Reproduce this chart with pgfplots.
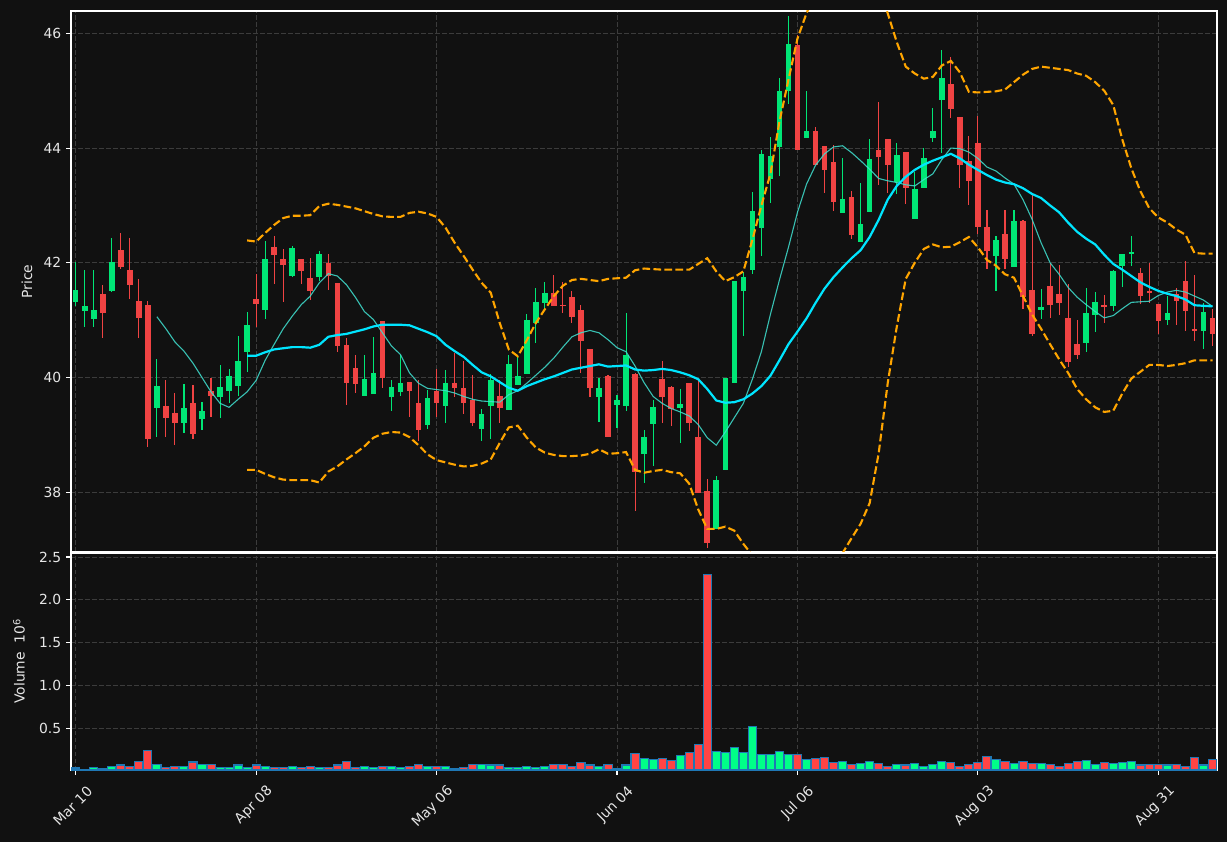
\documentclass[border=0pt]{standalone}
\usepackage{pgfplots}
\pgfplotsset{compat=1.18}
\usepackage{pgfplotstable}
\usepackage{fontspec}
\setmainfont{DejaVu Sans}
\definecolor{bg}{HTML}{111111}
\definecolor{upc}{HTML}{00E676}
\definecolor{dnc}{HTML}{F04343}
\definecolor{vup}{HTML}{00FF88}
\definecolor{vdn}{HTML}{FF4444}
\definecolor{vedge}{HTML}{1F77B4}
\definecolor{gridc}{HTML}{3C3C3C}
\definecolor{txt}{HTML}{E6E6E6}
\definecolor{smaA}{HTML}{00E5FF}
\definecolor{smaB}{HTML}{40E0D0}
\definecolor{bbc}{HTML}{FFA500}
\newlength\px
\setlength\px{0.72bp}

% up candles: index open high low close volume(10^6)
\pgfplotstableread{
i o h l c v
0 41.31 42.02 41.24 41.52 0.035
1 41.16 41.87 40.88 41.24 0.02
2 41.02 41.87 40.88 41.17 0.045
4 41.51 42.44 41.49 42.01 0.058
9 39.46 40.32 38.96 39.86 0.08
12 39.20 39.89 39.03 39.46 0.055
14 39.27 39.58 39.08 39.42 0.08
16 39.66 40.21 39.29 39.84 0.04
17 39.77 40.15 39.55 40.02 0.04
18 39.86 40.72 39.67 40.28 0.07
19 40.45 41.14 40.09 40.92 0.04
21 41.17 42.38 41.02 42.06 0.058
24 41.77 42.30 41.75 42.26 0.058
27 41.76 42.20 41.68 42.15 0.04
32 39.68 40.40 39.68 39.98 0.058
33 39.71 40.71 39.71 40.07 0.04
35 39.66 39.95 39.42 39.84 0.058
36 39.74 40.40 39.68 39.91 0.04
39 39.18 39.79 39.10 39.65 0.058
41 39.50 40.13 39.21 39.91 0.058
45 39.10 39.45 38.89 39.37 0.08
46 39.50 40.06 38.93 39.96 0.07
48 39.43 40.39 39.43 40.23 0.04
49 39.87 40.36 39.87 40.02 0.04
50 40.06 41.10 40.06 41.01 0.058
51 40.95 41.56 40.60 41.31 0.04
52 41.30 41.67 41.16 41.48 0.058
58 39.66 39.99 39.23 39.81 0.058
60 39.52 39.70 39.12 39.60 0.03
61 39.50 41.13 39.41 40.40 0.07
63 38.66 39.09 38.16 38.97 0.15
64 39.19 39.61 38.45 39.49 0.139
67 39.46 39.80 38.85 39.54 0.185
71 37.36 38.29 37.36 38.22 0.232
72 38.38 40.00 38.38 40.00 0.22
73 39.90 41.69 39.90 41.69 0.279
74 41.51 41.84 40.73 41.75 0.22
75 41.88 43.23 41.80 42.91 0.523
76 42.60 43.97 42.11 43.89 0.197
77 43.46 44.20 43.05 43.87 0.197
78 44.02 45.22 43.51 44.99 0.232
79 44.99 46.31 44.77 45.82 0.197
81 44.17 45.00 44.17 44.30 0.139
85 42.86 43.83 42.86 43.11 0.116
87 42.37 43.39 42.37 42.67 0.093
88 42.89 44.16 42.89 43.81 0.116
91 43.40 44.09 43.20 43.88 0.081
93 42.77 43.58 42.77 43.29 0.093
94 43.31 44.00 43.31 43.83 0.058
95 44.17 44.70 44.10 44.29 0.081
96 44.83 45.71 43.92 45.23 0.116
102 42.11 42.47 41.51 42.40 0.139
104 41.92 42.92 41.92 42.73 0.093
107 41.17 41.55 41.02 41.23 0.093
112 40.60 41.56 40.44 41.12 0.128
113 41.09 41.49 40.79 41.31 0.081
115 41.24 41.88 41.16 41.85 0.093
116 41.95 42.16 41.58 42.16 0.104
117 42.15 42.46 41.94 42.18 0.116
121 41.00 41.42 40.92 41.12 0.07
125 40.81 41.30 40.50 41.14 0.07
}\upT

% down candles
\pgfplotstableread{
i o h l c v
3 41.46 41.62 40.69 41.12 0.03
5 42.23 42.52 41.90 41.92 0.07
6 41.87 42.44 41.37 41.61 0.055
7 41.34 41.72 40.69 41.03 0.11
8 41.27 41.34 38.79 38.92 0.245
10 39.51 39.96 38.96 39.29 0.045
11 39.39 39.73 38.83 39.20 0.055
13 39.56 39.87 38.93 39.01 0.105
15 39.77 39.99 39.32 39.67 0.08
20 41.37 41.81 40.88 41.29 0.07
22 42.27 42.46 41.63 42.13 0.04
23 42.06 42.24 41.32 41.96 0.04
25 42.06 42.06 41.63 41.85 0.04
26 41.73 42.09 41.36 41.51 0.058
28 41.99 42.16 41.53 41.77 0.04
29 41.64 41.64 40.44 40.55 0.07
30 40.56 40.69 39.52 39.90 0.115
31 40.16 40.40 39.73 39.88 0.04
34 40.99 40.99 39.82 39.99 0.058
37 39.93 39.93 39.31 39.76 0.058
38 39.56 39.96 38.89 39.08 0.08
40 39.76 40.14 39.31 39.55 0.058
42 39.91 40.43 39.66 39.81 0.03
43 39.82 40.28 39.36 39.55 0.04
44 39.61 40.05 39.16 39.21 0.08
47 39.67 39.96 39.21 39.46 0.07
53 41.48 41.79 41.24 41.24 0.08
54 41.27 41.67 41.12 41.25 0.08
55 41.41 41.51 40.95 41.05 0.058
56 41.17 41.26 40.07 40.63 0.095
57 40.49 40.49 39.66 39.81 0.07
59 40.02 40.04 38.96 38.96 0.08
62 40.07 40.07 37.67 38.35 0.21
65 39.98 40.29 39.20 39.66 0.15
66 39.84 39.86 39.15 39.45 0.128
68 39.91 39.91 39.06 39.20 0.22
69 38.96 39.94 37.99 37.99 0.314
70 38.02 38.23 37.03 37.11 2.30
80 45.80 45.97 43.96 43.96 0.197
82 44.29 44.37 43.70 43.70 0.15
83 44.03 44.03 43.22 43.61 0.162
84 43.75 44.06 42.90 43.06 0.104
86 43.15 43.26 42.41 42.48 0.081
89 43.97 44.80 43.35 43.84 0.093
90 44.15 44.15 43.21 43.71 0.058
92 43.94 43.94 43.02 43.31 0.07
97 45.11 45.58 44.52 44.69 0.104
98 44.55 44.55 43.30 43.71 0.058
99 43.78 44.21 43.01 43.42 0.081
100 44.09 44.56 42.51 42.62 0.104
101 42.63 42.92 41.89 42.20 0.174
103 42.50 42.92 41.89 42.07 0.116
105 42.72 42.74 41.19 41.41 0.116
106 41.53 43.18 40.72 40.75 0.093
108 41.60 41.99 41.04 41.26 0.081
109 41.45 41.96 41.09 41.30 0.058
110 41.04 41.63 40.18 40.27 0.093
111 40.59 41.01 40.33 40.40 0.116
114 41.27 41.43 40.95 41.24 0.104
118 41.83 41.91 41.29 41.42 0.07
119 41.51 42.00 41.30 41.47 0.081
120 41.29 41.29 40.75 40.98 0.081
122 41.45 41.56 40.92 41.33 0.081
123 41.69 42.03 40.81 41.16 0.058
124 40.85 41.78 40.64 40.82 0.162
126 41.03 41.19 40.55 40.75 0.139
}\dnT

% 10-period moving average
\pgfplotstableread{
i m
9 41.06
10 40.85
11 40.62
12 40.46
13 40.25
14 40.00
15 39.75
16 39.55
17 39.48
18 39.62
19 39.75
20 39.95
21 40.30
22 40.58
23 40.85
24 41.07
25 41.27
26 41.42
27 41.65
28 41.81
29 41.77
30 41.62
31 41.40
32 41.15
33 41.01
34 40.78
35 40.55
36 40.40
37 40.08
38 39.90
39 39.81
40 39.79
41 39.77
42 39.73
43 39.67
44 39.62
45 39.59
46 39.58
47 39.57
48 39.70
49 39.77
50 39.90
51 40.04
52 40.18
53 40.34
54 40.53
55 40.71
56 40.78
57 40.82
58 40.78
59 40.66
60 40.52
61 40.45
62 40.20
63 39.91
64 39.67
65 39.55
66 39.46
67 39.40
68 39.33
69 39.18
70 38.95
71 38.82
72 39.05
73 39.30
74 39.55
75 39.97
76 40.45
77 41.10
78 41.70
79 42.27
80 42.88
81 43.37
82 43.70
83 43.90
84 44.02
85 44.04
86 43.92
87 43.78
88 43.63
89 43.47
90 43.43
91 43.40
92 43.36
93 43.34
94 43.45
95 43.55
96 43.80
97 44.00
98 43.99
99 43.93
100 43.82
101 43.67
102 43.60
103 43.48
104 43.37
105 43.10
106 42.76
107 42.35
108 42.00
109 41.80
110 41.57
111 41.40
112 41.27
113 41.15
114 41.04
115 41.08
116 41.20
117 41.31
118 41.32
119 41.33
120 41.43
121 41.49
122 41.52
123 41.49
124 41.42
125 41.35
126 41.24
}\smaT

% 20-period average with upper and lower bands
\pgfplotstableread{
i mid up lo
19 40.38 42.39 38.39
20 40.38 42.37 38.39
21 40.44 42.52 38.32
22 40.49 42.66 38.26
23 40.51 42.78 38.22
24 40.53 42.82 38.21
25 40.53 42.82 38.21
26 40.52 42.83 38.21
27 40.57 42.99 38.17
28 40.71 43.03 38.36
29 40.74 43.01 38.45
30 40.76 42.98 38.57
31 40.80 42.95 38.68
32 40.84 42.90 38.80
33 40.89 42.85 38.95
34 40.92 42.81 39.02
35 40.92 42.80 39.05
36 40.92 42.80 39.04
37 40.91 42.87 38.96
38 40.85 42.89 38.82
39 40.79 42.86 38.66
40 40.72 42.80 38.56
41 40.57 42.61 38.52
42 40.46 42.35 38.48
43 40.36 42.12 38.45
44 40.22 41.88 38.46
45 40.09 41.65 38.50
46 40.02 41.48 38.57
47 39.92 40.95 38.86
48 39.82 40.49 39.13
49 39.77 40.37 39.16
50 39.85 40.65 38.95
51 39.91 40.95 38.78
52 39.97 41.19 38.69
53 40.02 41.42 38.65
54 40.08 41.60 38.63
55 40.14 41.70 38.63
56 40.17 41.72 38.64
57 40.20 41.70 38.67
58 40.23 41.68 38.75
59 40.19 41.72 38.67
60 40.20 41.73 38.68
61 40.21 41.74 38.70
62 40.14 41.87 38.39
63 40.12 41.90 38.34
64 40.13 41.89 38.37
65 40.15 41.88 38.39
66 40.13 41.88 38.35
67 40.09 41.88 38.33
68 40.04 41.88 38.15
69 39.97 41.98 37.70
70 39.80 42.08 37.36
71 39.60 41.85 37.36
72 39.56 41.68 37.40
73 39.57 41.75 37.33
74 39.62 41.85 37.10
75 39.72 42.40 36.90
76 39.85 43.00 36.70
77 40.03 43.55 36.51
78 40.30 44.46 36.10
79 40.58 45.19 35.97
80 40.80 45.91 35.69
81 41.03 46.35 35.70
82 41.30 46.70 35.90
83 41.55 46.90 36.20
84 41.75 47.00 36.50
85 41.92 46.90 36.94
86 42.08 47.00 37.20
87 42.22 47.00 37.45
88 42.45 47.10 37.81
89 42.75 46.80 38.68
90 43.10 46.35 39.90
91 43.34 45.85 40.88
92 43.50 45.42 41.72
93 43.62 45.30 42.00
94 43.71 45.21 42.24
95 43.78 45.24 42.32
96 43.84 45.44 42.27
97 43.90 45.52 42.28
98 43.82 45.32 42.36
99 43.71 44.98 42.45
100 43.62 44.97 42.27
101 43.53 44.98 42.05
102 43.45 44.99 41.95
103 43.40 45.02 41.80
104 43.37 45.15 41.74
105 43.30 45.28 41.42
106 43.20 45.38 41.10
107 43.13 45.42 40.85
108 43.00 45.40 40.58
109 42.88 45.38 40.32
110 42.70 45.36 40.08
111 42.54 45.30 39.80
112 42.42 45.26 39.62
113 42.32 45.15 39.48
114 42.14 45.00 39.40
115 41.98 44.75 39.42
116 41.88 44.15 39.72
117 41.77 43.65 39.98
118 41.66 43.25 40.10
119 41.58 42.95 40.22
120 41.51 42.79 40.22
121 41.46 42.70 40.20
122 41.42 42.58 40.22
123 41.36 42.49 40.25
124 41.26 42.17 40.30
125 41.25 42.16 40.30
126 41.24 42.16 40.30
}\bbT

\pgfplotsset{
  darkax/.style={
    scale only axis, width=1146\px,
    xmin=-0.52, xmax=126.5,
    axis background/.style={fill=bg},
    axis line style={draw=white, line width=1.1\px},
    xmajorgrids, ymajorgrids,
    major grid style={draw=gridc, line width=0.9\px, dash pattern=on 4.5\px off 2.5\px},
    tick style={draw=white, line width=1.1\px},
    major tick length=4.9\px,
    tick align=outside,
    tick pos=left,
    ticklabel style={font=\fontsize{10bp}{12bp}\selectfont, text=txt},
    label style={font=\fontsize{10bp}{12bp}\selectfont, text=txt},
    xtick={0,20,40,60,80,100,120},
    clip=true,
  },
  candlewick/.style={draw=none, mark=none, forget plot,
    error bars/.cd, y dir=both, y explicit, error mark=none,
    error bar style={draw=#1, line width=1.1\px}},
  candlebody/.style={draw=none, mark=none, forget plot,
    error bars/.cd, y dir=both, y explicit, error mark=none,
    error bar style={draw=#1, line width=5.6\px}},
}

\begin{document}
\begin{tikzpicture}
\fill[bg] (0,0) rectangle (1227\px,842\px);
\useasboundingbox (0,0) rectangle (1227\px,842\px);

% ---------- price panel ----------
\begin{axis}[darkax,
  at={(71\px,290\px)}, anchor=south west, height=541\px,
  ymin=36.958, ymax=46.39,
  ytick={38,40,42,44,46}, yticklabels={38,40,42,44,46},
  xticklabels={}, xtick style={draw=none},
  ylabel={Price},
  ylabel style={at={(rel axis cs:0,0.5)}, anchor=center, yshift=44\px},
]
\addplot[candlewick=upc] table[x=i, y expr={(\thisrow{h}+\thisrow{l})/2}, y error expr={(\thisrow{h}-\thisrow{l})/2}] {\upT};
\addplot[candlewick=dnc] table[x=i, y expr={(\thisrow{h}+\thisrow{l})/2}, y error expr={(\thisrow{h}-\thisrow{l})/2}] {\dnT};
\addplot[candlebody=upc] table[x=i, y expr={(\thisrow{o}+\thisrow{c})/2}, y error expr={max((\thisrow{c}-\thisrow{o})/2,0.008)}] {\upT};
\addplot[candlebody=dnc] table[x=i, y expr={(\thisrow{o}+\thisrow{c})/2}, y error expr={max((\thisrow{o}-\thisrow{c})/2,0.008)}] {\dnT};
\addplot[smaB, line width=1.1\px, opacity=0.85, mark=none] table[x=i, y=m] {\smaT};
\addplot[smaA, line width=2.2\px, mark=none] table[x=i, y=mid] {\bbT};
\addplot[bbc, line width=2.1\px, mark=none, dash pattern=on 7.7\px off 3.3\px] table[x=i, y=up] {\bbT};
\addplot[bbc, line width=2.1\px, mark=none, dash pattern=on 7.7\px off 3.3\px] table[x=i, y=lo] {\bbT};
\end{axis}

% ---------- volume panel ----------
\begin{axis}[darkax,
  at={(71\px,72\px)}, anchor=south west, height=217\px,
  ymin=0.012, ymax=2.547,
  ytick={0.5,1,1.5,2,2.5}, yticklabels={0.5,1.0,1.5,2.0,2.5},
  xticklabels={Mar 10,Apr 08,May 06,Jun 04,Jul 06,Aug 03,Aug 31},
  xticklabel style={rotate=45, anchor=east, xshift=4.8\px, yshift=-20\px},
  ylabel={Volume\ \ 10\raisebox{0.55ex}{\fontsize{7bp}{8bp}\selectfont 6}},
  ylabel style={at={(rel axis cs:0,0.5)}, anchor=center, yshift=52\px},
]
\addplot[ybar, bar width=0.9, bar shift=0pt, fill=vup, draw=vedge, line width=1.1\px] table[x=i, y=v] {\upT};
\addplot[ybar, bar width=0.9, bar shift=0pt, fill=vdn, draw=vedge, line width=1.1\px] table[x=i, y=v] {\dnT};
\end{axis}
\end{tikzpicture}
\end{document}
